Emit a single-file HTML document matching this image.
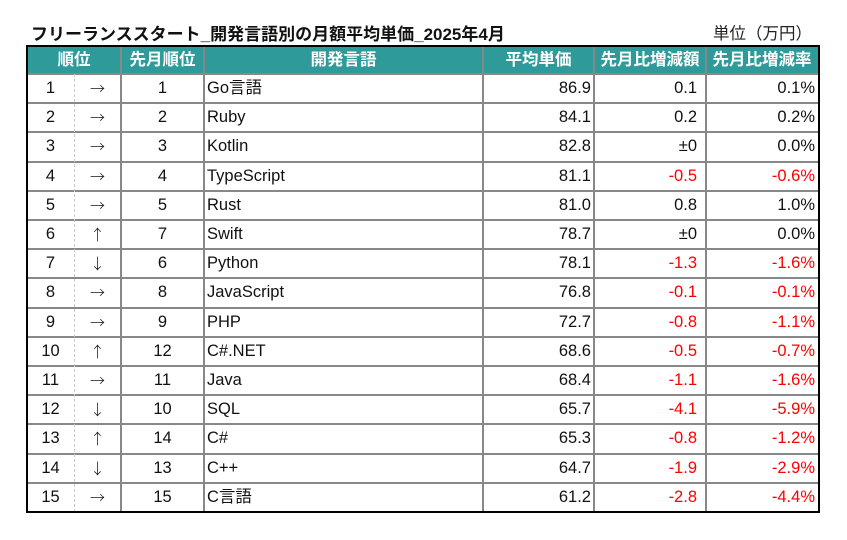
<!DOCTYPE html>
<html><head><meta charset="utf-8"><style>
body{margin:0;width:847px;height:540px;background:#fff;position:relative;font-family:"Liberation Sans","Noto Sans CJK JP",sans-serif;overflow:hidden}
.t{position:absolute;white-space:nowrap}
.h{position:absolute;top:46px;height:28px;background:#2e9a9a;color:#fff;font-weight:bold;font-size:16.5px;line-height:28px;text-align:center;white-space:nowrap}
.c{position:absolute;height:29px;line-height:29px;font-size:16.5px;color:#111;white-space:nowrap}
.a{font-family:"Noto Sans CJK JP",sans-serif;font-size:15px;font-weight:300}
.r{color:#f00}
</style></head><body>
<div class="t" style="left:31px;top:20px;font-size:17px;font-weight:bold;color:#111">フリーランススタート_開発言語別の月額平均単価_2025年4月</div>
<div class="t" style="left:713px;top:20px;font-size:16.5px;color:#222">単位（万円）</div>
<div id="tb"></div>
<script>
const L=27,R=818,T=46,HB=74,RH=29.2;
let h='';
h+=`<div class="h" style="left:27px;width:94px">順位</div>`;
const hx=[[121,204,'先月順位'],[204,483,'開発言語'],[483,594,'平均単価'],[594,706,'先月比増減額'],[706,818,'先月比増減率']];
hx.forEach(a=>h+=`<div class="h" style="left:${a[0]}px;width:${a[1]-a[0]}px">${a[2]}</div>`);
const d=[
[1,'→',1,'Go言語','86.9','0.1','0.1%'],
[2,'→',2,'Ruby','84.1','0.2','0.2%'],
[3,'→',3,'Kotlin','82.8','±0','0.0%'],
[4,'→',4,'TypeScript','81.1','-0.5','-0.6%'],
[5,'→',5,'Rust','81.0','0.8','1.0%'],
[6,'↑',7,'Swift','78.7','±0','0.0%'],
[7,'↓',6,'Python','78.1','-1.3','-1.6%'],
[8,'→',8,'JavaScript','76.8','-0.1','-0.1%'],
[9,'→',9,'PHP','72.7','-0.8','-1.1%'],
[10,'↑',12,'C#.NET','68.6','-0.5','-0.7%'],
[11,'→',11,'Java','68.4','-1.1','-1.6%'],
[12,'↓',10,'SQL','65.7','-4.1','-5.9%'],
[13,'↑',14,'C#','65.3','-0.8','-1.2%'],
[14,'↓',13,'C++','64.7','-1.9','-2.9%'],
[15,'→',15,'C言語','61.2','-2.8','-4.4%']];
d.forEach((r,i)=>{
 const y=HB+i*RH;
 h+=`<div class="c" style="left:27px;width:47px;top:${y}px;text-align:center">${r[0]}</div>`;
 h+=`<div class="c a" style="left:74px;width:47px;top:${y}px;text-align:center">${r[1]}</div>`;
 h+=`<div class="c" style="left:121px;width:83px;top:${y}px;text-align:center">${r[2]}</div>`;
 h+=`<div class="c" style="left:207px;top:${y}px">${r[3]}</div>`;
 h+=`<div class="c" style="left:483px;width:108px;top:${y}px;text-align:right">${r[4]}</div>`;
 const red=r[5].startsWith('-')?' r':'';
 h+=`<div class="c${red}" style="left:594px;width:103px;top:${y}px;text-align:right">${r[5]}</div>`;
 h+=`<div class="c${red}" style="left:706px;width:109px;top:${y}px;text-align:right">${r[6]}</div>`;
 if(i>0) h+=`<div style="position:absolute;left:27px;width:791px;top:${Math.round(y)-1}px;height:2px;background:#888"></div>`;
});
const B=Math.round(HB+15*RH);
h+=`<div style="position:absolute;left:27px;width:791px;top:${HB-1}px;height:2px;background:#888"></div>`;
h+=`<div style="position:absolute;left:74px;top:${HB}px;height:${B-HB}px;border-left:1px dashed #ccc"></div>`;
[121,204,483,594,706].forEach(x=>h+=`<div style="position:absolute;left:${x-1}px;top:46px;height:${B-46}px;width:2px;background:#888"></div>`);
h+=`<div style="position:absolute;left:26px;top:45px;box-sizing:border-box;width:794px;height:${B-44}px;border:2px solid #000"></div>`;
document.getElementById('tb').innerHTML=h;
</script>
</body></html>
